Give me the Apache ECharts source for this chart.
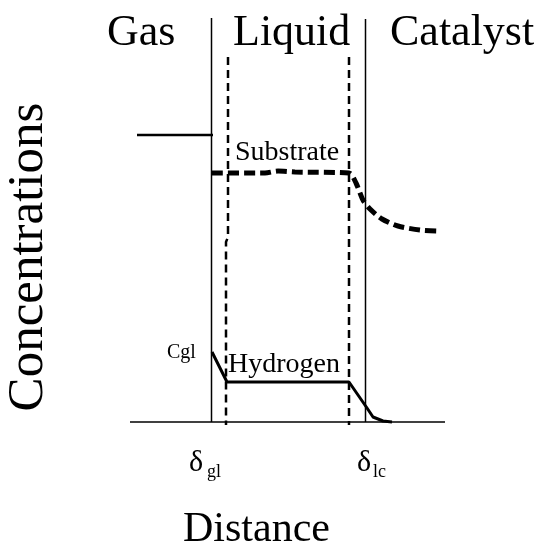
<!DOCTYPE html>
<html>
<head>
<meta charset="utf-8">
<script src="https://cdn.jsdelivr.net/npm/echarts@6/dist/echarts.min.js"></script>
<style>html,body{margin:0;padding:0;background:#fff}#c{width:539px;height:550px}</style>
</head>
<body>
<div id="c"></div>
<script>
// Schematic data (distance units, concentration units)
const baseline = [[0, 0], [315, 0]];
const gasLiquidInterface = [[81.5, 0], [81.5, 404]];
const liquidCatalystInterface = [[235.5, 0], [235.5, 403]];
const filmEdgeGas = [[98, 365], [98, 185], [96, 180], [96, -3]];
const filmEdgeCatalyst = [[219, 365], [219, -3]];
const gasSubstrate = [[7, 287], [83, 287]];
const substrateProfile = [[82, 249], [135, 249], [148, 251], [165, 250], [219, 249], [226, 239], [233, 222], [240, 213], [252, 203], [268, 196], [290, 192], [310, 191]];
const hydrogenProfile = [[82, 70], [97, 40], [219, 40], [237, 14], [243, 5], [253, 1], [262, 0]];

const phaseLabels = ['Gas', 'Liquid', 'Catalyst'];
const serif = 'Liberation Serif, Times New Roman, serif';

function line(data, width, type, extra) {
  return Object.assign({
    type: 'line', data: data, showSymbol: false, symbol: 'none', clip: false, silent: true,
    lineStyle: { color: '#000', width: width, type: type, cap: 'butt' },
    animation: false
  }, extra || {});
}

const chart = echarts.init(document.getElementById('c'));
chart.setOption({
  backgroundColor: '#fff',
  animation: false,
  grid: { left: 130, top: 22, width: 315, height: 400 },
  xAxis: { type: 'value', min: 0, max: 315, show: false },
  yAxis: { type: 'value', min: 0, max: 400, show: false },
  series: [
    line(baseline, 1.5, 'solid'),
    line(gasLiquidInterface, 1.5, 'solid'),
    line(liquidCatalystInterface, 1.5, 'solid'),
    line(filmEdgeGas, 2.5, [8, 5]),
    line(filmEdgeCatalyst, 2.5, [8, 5]),
    line(gasSubstrate, 2.5, 'solid'),
    line(substrateProfile, 5, [11, 5], { smooth: 0.25 }),
    line(hydrogenProfile, 3, 'solid')
  ],
  graphic: [
    { type: 'text', left: 107, top: 11, style: { text: phaseLabels[0], font: '44px ' + serif, fill: '#000' } },
    { type: 'text', left: 233, top: 11, style: { text: phaseLabels[1], font: '44px ' + serif, fill: '#000' } },
    { type: 'text', left: 390, top: 11, style: { text: phaseLabels[2], font: '44px ' + serif, fill: '#000' } },
    { type: 'text', left: 235, top: 139, style: { text: 'Substrate', font: '28px ' + serif, fill: '#000' } },
    { type: 'text', left: 228, top: 351, style: { text: 'Hydrogen', font: '28px ' + serif, fill: '#000' } },
    { type: 'text', left: 167, top: 343, style: { text: 'Cgl', font: '20px ' + serif, fill: '#000' } },
    { type: 'text', left: 189, top: 448, style: { text: 'δ', font: '30px ' + serif, fill: '#000' } },
    { type: 'text', left: 207, top: 463, style: { text: 'gl', font: '18px ' + serif, fill: '#000' } },
    { type: 'text', left: 357, top: 448, style: { text: 'δ', font: '30px ' + serif, fill: '#000' } },
    { type: 'text', left: 373, top: 463, style: { text: 'lc', font: '18px ' + serif, fill: '#000' } },
    { type: 'text', left: 183, top: 509, style: { text: 'Distance', font: '42px ' + serif, fill: '#000' } },
    { type: 'text', x: 29, y: 257, rotation: Math.PI / 2, style: { text: 'Concentrations', font: '51px ' + serif, fill: '#000', align: 'center', verticalAlign: 'middle' } }
  ]
});
</script>
</body>
</html>
